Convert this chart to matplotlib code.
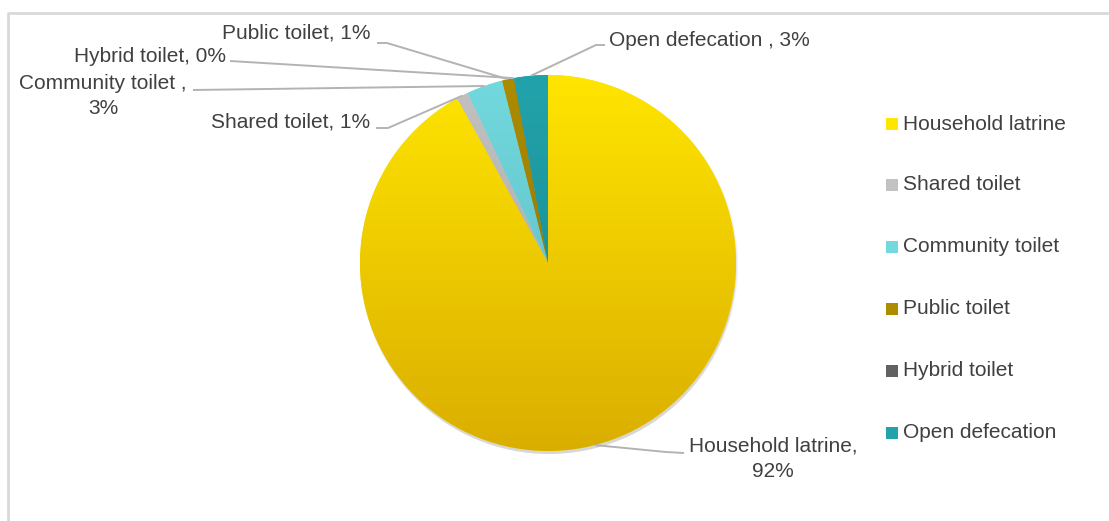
import numpy as np
import matplotlib.pyplot as plt
from matplotlib.colors import to_rgb, LinearSegmentedColormap
from matplotlib.patches import Circle

plt.rcParams['font.family'] = ['Liberation Sans', 'DejaVu Sans']

categories = ["Household latrine", "Shared toilet", "Community toilet",
              "Public toilet", "Hybrid toilet", "Open defecation"]
label_names = ["Household latrine", "Shared toilet", "Community toilet ",
               "Public toilet", "Hybrid toilet", "Open defecation "]
shares = [92.0, 1.0, 3.1, 1.0, 0.02, 2.9]
top_colors = ["#FFE500", "#C2C2C2", "#72D9DF", "#AD8C00", "#626262", "#22A3AB"]
bot_colors = ["#DAAE00", "#A3A3A3", "#58B8BE", "#8A6E00", "#4A4A4A", "#17838A"]

W, H = 1109, 521
TXT = "#404040"

fig = plt.figure(figsize=(W / 100, H / 100), dpi=100)
ax = fig.add_axes([0, 0, 1, 1])

def Y(y):
    return H - y

cx, cy, r = 548, Y(263), 188

# soft shadow below the pie
for k, a in enumerate([0.05, 0.05, 0.06]):
    ax.add_patch(Circle((cx + 1, cy - 2 - k), r + 1 - k, color="black", alpha=a,
                        lw=0, zorder=0))

wedges, _ = ax.pie(shares, colors=top_colors, startangle=90, counterclock=False,
                   center=(cx, cy), radius=r, wedgeprops=dict(linewidth=0))

# vertical gradient inside each wedge
ext = [cx - r, cx + r, cy - r, cy + r]
for w, c1, c2 in zip(wedges, top_colors, bot_colors):
    cmap = LinearSegmentedColormap.from_list("g", [to_rgb(c2), to_rgb(c1)])
    grad = np.linspace(0, 1, 256).reshape(-1, 1)
    im = ax.imshow(grad, cmap=cmap, extent=ext, origin="lower", aspect="auto",
                   zorder=2, interpolation="bilinear")
    im.set_clip_path(w)

# data labels with leader lines
text_pos = [(773, 459, "center"), (370, 122, "right"), (103, 96, "center"),
            (370, 33, "right"), (226, 56, "right"), (609, 40, "left")]
leader_start = [[(684, 453), (666, 452)], [(376, 128), (388, 128)], [(193, 90)],
                [(377, 43), (387, 43)], [(230, 61)], [(605, 45), (596, 45)]]
for i, w in enumerate(wedges):
    name, pct = label_names[i], round(shares[i])
    if i in (0, 2):
        txt = f"{name},\n{pct}%"
    else:
        txt = f"{name}, {pct}%"
    x, y, ha = text_pos[i]
    ax.text(x, Y(y), txt, ha=ha, va="center", fontsize=15, color=TXT,
            linespacing=1.4, multialignment="center")
    mid = np.deg2rad((w.theta1 + w.theta2) / 2)
    ex, ey = cx + r * np.cos(mid), cy + r * np.sin(mid)
    pts = [(px, Y(py)) for px, py in leader_start[i]] + [(ex, ey)]
    xs, ys = zip(*pts)
    ax.plot(xs, ys, color="#B3B3B3", lw=1.4, zorder=3, solid_capstyle="butt")

# legend
leg_y = [124, 185, 247, 309, 371, 433]
for name, c1, ly in zip(categories, top_colors, leg_y):
    ax.scatter([892], [Y(ly)], marker="s", s=70, color=c1, lw=0, zorder=4)
    ax.text(903, Y(ly), name, ha="left", va="center", fontsize=15, color=TXT)

# chart frame
ax.plot([8, 8, W], [0, Y(13), Y(13)], color="#D9D9D9", lw=2, zorder=1)

ax.set_xlim(0, W)
ax.set_ylim(0, H)
ax.set_aspect("equal")
ax.axis("off")

fig.savefig("out.png", dpi=100)
